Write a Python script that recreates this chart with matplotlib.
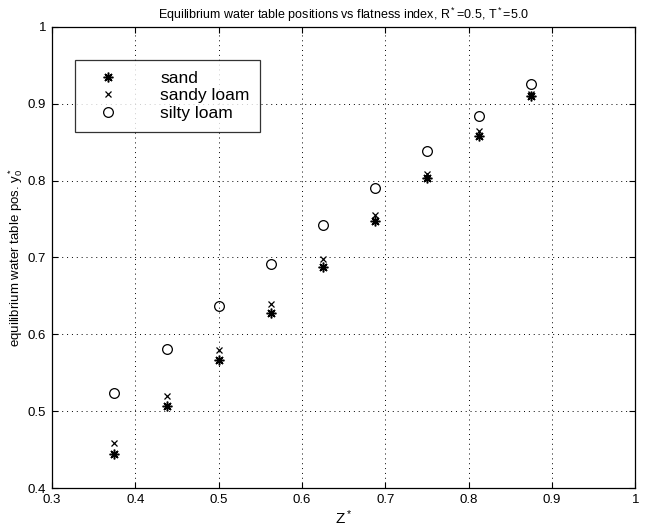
import matplotlib
matplotlib.use('Agg')
import matplotlib.pyplot as plt

plt.rcParams['font.family'] = ['Liberation Sans', 'DejaVu Sans']
plt.rcParams['mathtext.default'] = 'regular'

# flatness index Z*
z = [0.375, 0.4375, 0.5, 0.5625, 0.625, 0.6875, 0.75, 0.8125, 0.875]
# equilibrium water table positions y0*
sand = [0.444, 0.507, 0.567, 0.628, 0.687, 0.747, 0.803, 0.858, 0.910]
sandy_loam = [0.458, 0.520, 0.580, 0.640, 0.698, 0.755, 0.809, 0.864, 0.913]
silty_loam = [0.524, 0.581, 0.637, 0.691, 0.742, 0.791, 0.839, 0.884, 0.926]

fig = plt.figure(figsize=(6.49, 5.27), dpi=100)
ax = fig.add_axes([0.080, 0.074, 0.899, 0.875])

ax.plot(z, sand, linestyle='none', marker=(8, 2, 0), markersize=7,
        markeredgewidth=1.1, color='black', label='sand')
ax.plot(z, sandy_loam, linestyle='none', marker='x', markersize=5,
        markeredgewidth=0.9, color='black', label='sandy loam')
ax.plot(z, silty_loam, linestyle='none', marker='o', markersize=7,
        markerfacecolor='none', markeredgewidth=0.9, color='black',
        label='silty loam')

ax.set_xlim(0.3, 1.0)
ax.set_ylim(0.4, 1.0)
ax.set_xticks([0.3, 0.4, 0.5, 0.6, 0.7, 0.8, 0.9, 1.0])
ax.set_xticklabels(['0.3', '0.4', '0.5', '0.6', '0.7', '0.8', '0.9', '1'])
ax.set_yticks([0.4, 0.5, 0.6, 0.7, 0.8, 0.9, 1.0])
ax.set_yticklabels(['0.4', '0.5', '0.6', '0.7', '0.8', '0.9', '1'])
ax.tick_params(direction='in', length=4, width=0.8, labelsize=9.5,
               top=True, right=True, pad=4)
ax.grid(True, linestyle=(0, (1, 4)), color='black', linewidth=0.7)
for s in ax.spines.values():
    s.set_linewidth(0.9)

ax.set_title('Equilibrium water table positions vs flatness index, '
             'R$^*$=0.5, T$^*$=5.0', fontsize=9, pad=6)
ax.set_xlabel('Z$^*$', fontsize=11, labelpad=2)
ax.set_ylabel('equilibrium water table pos. y$_0^*$', fontsize=9.5, labelpad=2)

leg = ax.legend(loc='upper left', bbox_to_anchor=(0.040, 0.928),
                fontsize=12.5, frameon=True, fancybox=False, handlelength=2.6,
                handletextpad=1.7, borderpad=0.6, labelspacing=0.15,
                borderaxespad=0)
leg.get_frame().set_edgecolor('black')
leg.get_frame().set_linewidth(0.9)

plt.savefig('out.png', dpi=100)
plt.close()
